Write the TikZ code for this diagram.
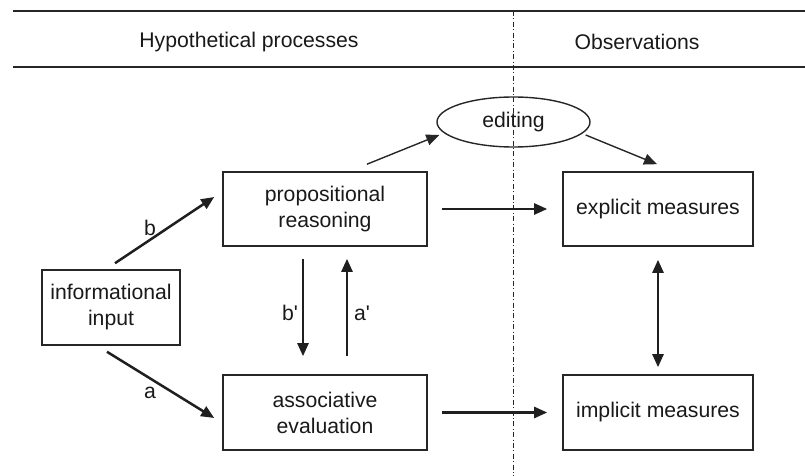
\documentclass[tikz,border=0pt]{standalone}
\usepackage{fontspec}
\setmainfont{Liberation Sans}
\usetikzlibrary{calc,arrows.meta,shapes.geometric}
\begin{document}
\begin{tikzpicture}[x=0.5pt,y=-0.5pt,
  txt/.style={font=\fontsize{10.6pt}{13pt}\selectfont,text=black!90},
  box/.style={txt,draw=black!85,line width=0.8pt,rectangle,align=center,inner sep=0pt},
  arr/.style={line width=1.25pt,draw=black!88,-{Triangle[length=6.5pt,width=5.5pt]}},
  thinarr/.style={line width=0.7pt,draw=black!85,-{Triangle[length=6.5pt,width=5.5pt]}},
  lbl/.style={txt,inner sep=0pt}]
\useasboundingbox (0,0) rectangle (805,476);
% header
\coordinate (tl) at (13,11);
\coordinate (tr) at (805,11);
\coordinate (ml) at (13,67);
\coordinate (mr) at (805,67);
\coordinate (vtop) at (513,11);
\coordinate (vbot) at (513,476);
\draw[line width=0.9pt,black!85] (tl) -- (tr);
\draw[line width=0.9pt,black!85] (ml) -- (mr);
\draw[line width=0.5pt,black!85,dash pattern=on 2.5pt off 1.2pt on 0.5pt off 1.2pt] (vtop) -- (vbot);
\node[lbl] (hyp) at (249,42) {Hypothetical processes};
\node[lbl] (obs) at (637,42) {Observations};
% nodes
\node[box,minimum width=102pt,minimum height=37pt] (prop) at (325,209) {propositional\\reasoning};
\node[box,minimum width=69pt,minimum height=37.5pt] (input) at (111,307.5) {informational\\input};
\node[box,minimum width=102pt,minimum height=37.5pt] (assoc) at (325,412.5) {associative\\evaluation};
\node[box,minimum width=95pt,minimum height=37pt] (expl) at (658,209) {explicit measures};
\node[box,minimum width=95pt,minimum height=37.5pt] (impl) at (658,412.5) {implicit measures};
\node[txt,draw=black!85,line width=0.7pt,ellipse,minimum width=76.5pt,minimum height=25pt,inner sep=0pt] (edit) at (513.5,122) {editing};
% arrows
\draw[arr] ($(input.north)+(4,-6)$) -- ($(prop.west)+(-8,-12)$);
\draw[arr] ($(input.south)+(-4,6)$) -- ($(assoc.west)+(-8,5.5)$);
\draw[arr] ($(prop.south)+(-22,12)$) -- ($(assoc.north)+(-22,-18)$);
\draw[arr] ($(assoc.north)+(22,-18)$) -- ($(prop.south)+(22,12)$);
\draw[arr] ($(prop.east)+(14,0)$) -- ($(expl.west)+(-15,0)$);
\draw[arr] ($(assoc.east)+(14,0)$) -- ($(impl.west)+(-15,0)$);
\draw[arr,{Triangle[length=6.5pt,width=5.5pt]}-{Triangle[length=6.5pt,width=5.5pt]}] ($(expl.south)+(0,13)$) -- ($(impl.north)+(0,-7)$);
\draw[thinarr] ($(prop.north)+(42,-7)$) -- ($(edit.west)+(3,13)$);
\draw[thinarr] ($(edit.east)+(-5,13)$) -- ($(expl.north)+(-1,-7)$);
% labels
\node[lbl] (lb) at (150,228) {b};
\node[lbl] (la) at (150,393) {a};
\node[lbl] (lbp) at (290,313) {b\textquotesingle};
\node[lbl] (lap) at (362,313) {a\textquotesingle};
\end{tikzpicture}
\end{document}
